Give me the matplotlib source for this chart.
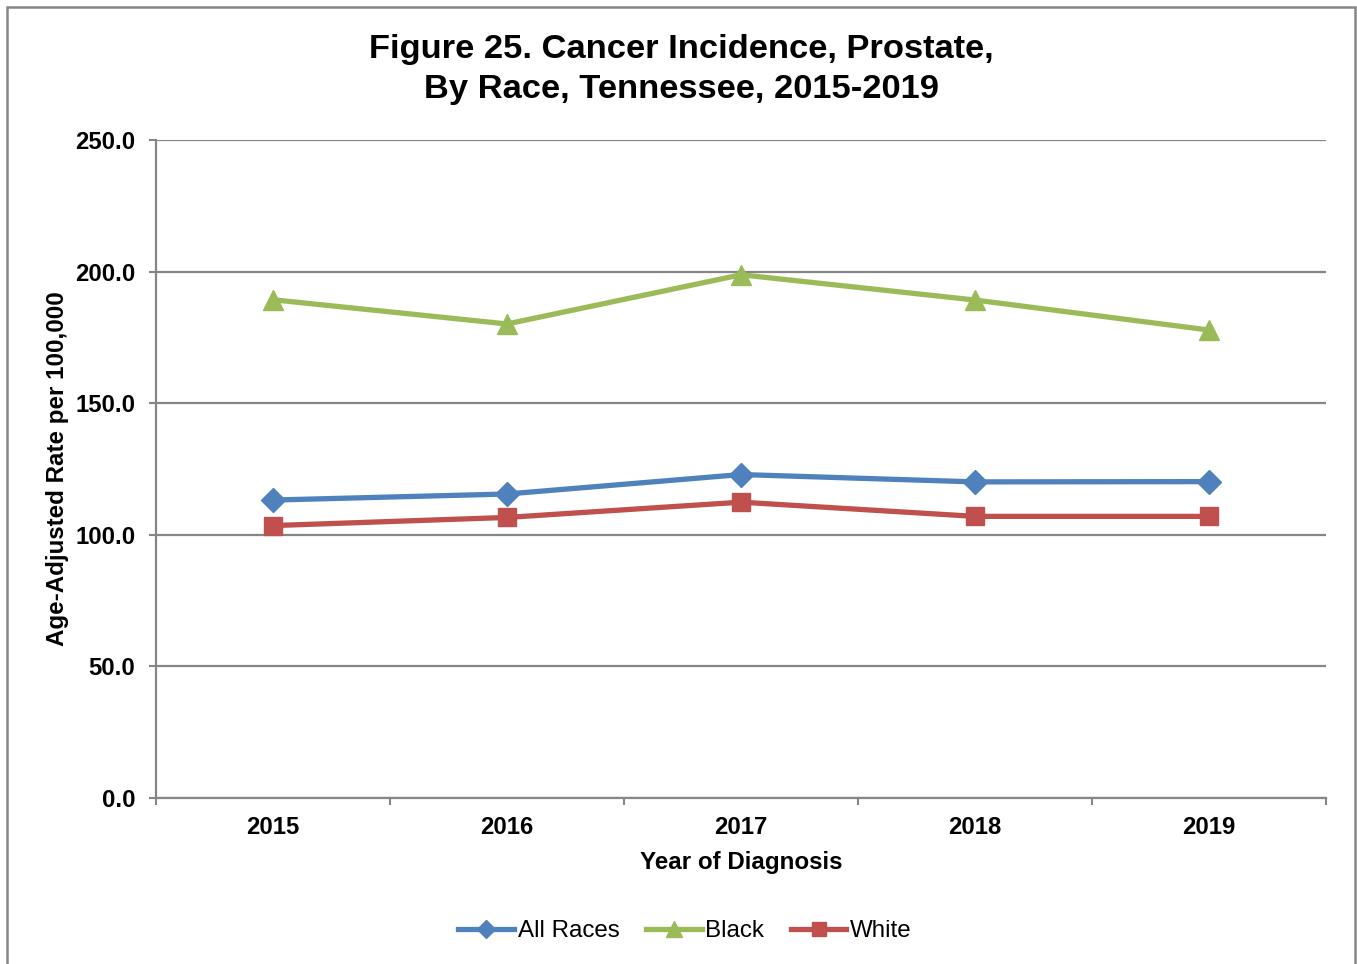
import matplotlib
matplotlib.use("Agg")
import matplotlib.pyplot as plt
from matplotlib.patches import Rectangle

years = ["2015", "2016", "2017", "2018", "2019"]
all_races = [113.2, 115.5, 122.9, 120.1, 120.2]
black = [189.3, 180.1, 198.8, 189.2, 177.8]
white = [103.5, 106.6, 112.4, 107.0, 107.0]
y_ticks = [0, 50, 100, 150, 200, 250]

plt.rcParams['font.family'] = ['Liberation Sans', 'DejaVu Sans']

W, H = 1357, 964
fig = plt.figure(figsize=(W / 100, H / 100), dpi=100)

# outer chart frame
fig.patches.append(Rectangle((7 / W, -0.05), (1355 - 7) / W, 1.05 - 7 / H,
                             transform=fig.transFigure, fill=False,
                             edgecolor="#868686", linewidth=1.8))

left, right, top, bottom = 156, 1326, 140, 798
ax = fig.add_axes([left / W, 1 - bottom / H, (right - left) / W, (bottom - top) / H])

x = list(range(len(years)))
grid_c = "#868686"

ax.plot(x, all_races, color="#4F81BD", lw=3.8, marker="D", ms=12.5,
        label="All Races", zorder=3)
ax.plot(x, black, color="#9BBB59", lw=3.8, marker="^", ms=15,
        label="Black", zorder=3)
ax.plot(x, white, color="#C0504D", lw=3.8, marker="s", ms=13,
        label="White", zorder=3)

ax.set_xlim(-0.5, len(years) - 0.5)
ax.set_ylim(0, 250)
ax.set_yticks(y_ticks)
ax.set_yticklabels([f"{v:.1f}" for v in y_ticks], fontsize=17.2, fontweight="bold")
ax.yaxis.grid(True, color=grid_c, lw=1.6)
ax.set_axisbelow(True)

ax.set_xticks([i - 0.5 for i in range(len(years) + 1)])
ax.set_xticklabels([])
ax.set_xticks(x, minor=True)
ax.set_xticklabels(years, minor=True, fontsize=17.2, fontweight="bold")
ax.tick_params(axis="x", which="minor", length=0, pad=13)
ax.tick_params(axis="x", which="major", length=5, width=1.5, color=grid_c, direction="out")
ax.tick_params(axis="y", length=5, width=1.5, color=grid_c, pad=10)

for s in ["top", "right"]:
    ax.spines[s].set_visible(False)
for s in ["left", "bottom"]:
    ax.spines[s].set_color(grid_c)
    ax.spines[s].set_linewidth(1.6)

ax.set_xlabel("Year of Diagnosis", fontsize=17.4, fontweight="bold", labelpad=8.5)
ax.set_ylabel("Age-Adjusted Rate per 100,000", fontsize=17.4, fontweight="bold", labelpad=4)

fig.text(681 / W, 1 - 69.5 / H, "Figure 25. Cancer Incidence, Prostate,\nBy Race, Tennessee, 2015-2019",
         ha="center", va="center", fontsize=24.8, fontweight="bold", linespacing=1.36)

leg = fig.legend(loc="center", bbox_to_anchor=(685 / W, 1 - 931 / H), ncol=3,
                 frameon=False, fontsize=17.4, handlelength=2.3, handletextpad=0.15,
                 columnspacing=1.1, markerscale=0.75)

fig.savefig("out.png", dpi=100)
